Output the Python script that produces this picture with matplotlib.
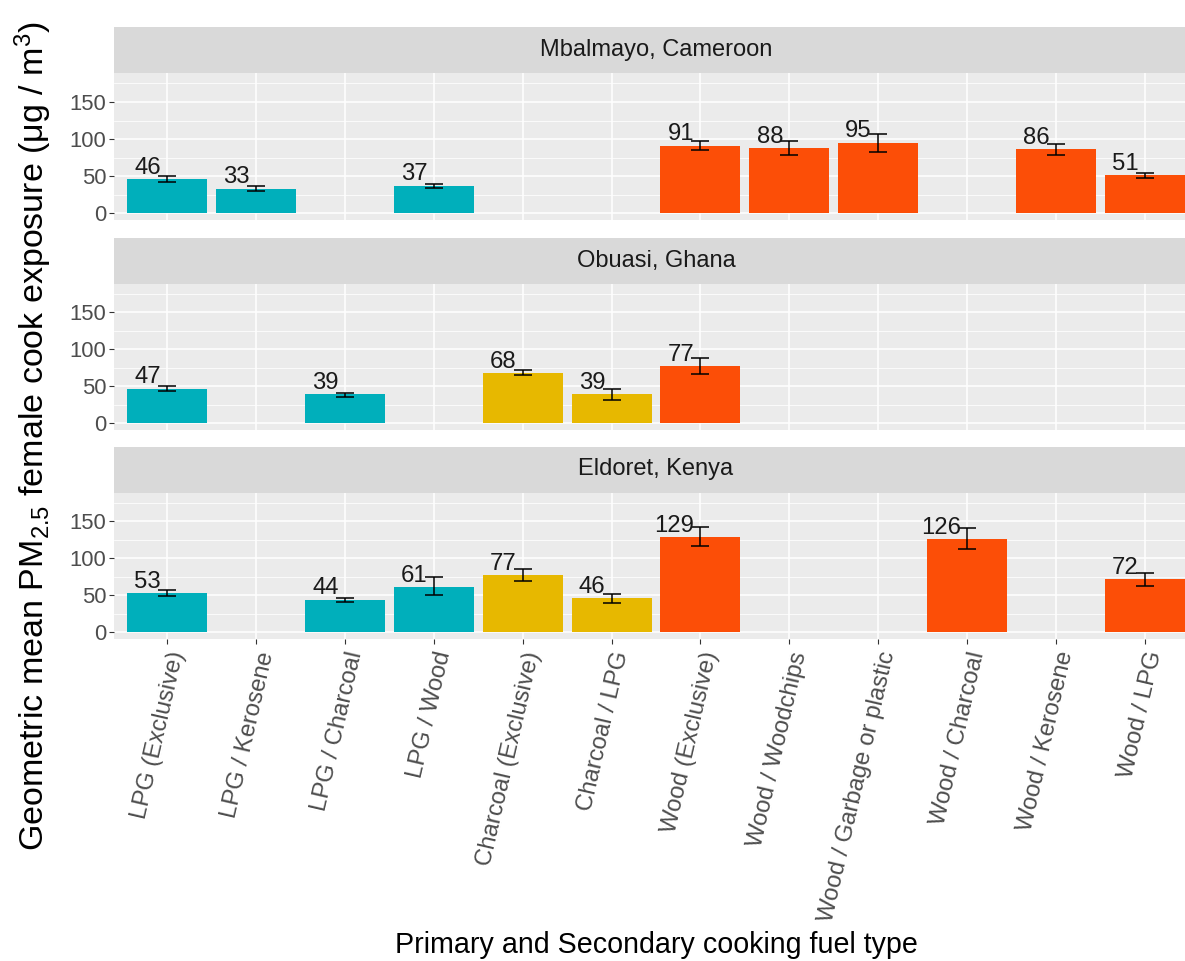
import numpy as np
import matplotlib
matplotlib.use("Agg")
import matplotlib.pyplot as plt

plt.rcParams['font.family'] = ['Liberation Sans', 'DejaVu Sans']
plt.rcParams['mathtext.fontset'] = 'custom'
plt.rcParams['mathtext.rm'] = 'Liberation Sans'
plt.rcParams['mathtext.it'] = 'Liberation Sans:italic'

nan = np.nan

# categories on the x axis and the primary fuel for each
categories = ["LPG (Exclusive)", "LPG / Kerosene", "LPG / Charcoal", "LPG / Wood",
              "Charcoal (Exclusive)", "Charcoal / LPG", "Wood (Exclusive)",
              "Wood / Woodchips", "Wood / Garbage or plastic", "Wood / Charcoal",
              "Wood / Kerosene", "Wood / LPG"]
primary_fuel = ["LPG"] * 4 + ["Charcoal"] * 2 + ["Wood"] * 6
fuel_colors = {"LPG": "#00AFBB", "Charcoal": "#E7B800", "Wood": "#FC4E07"}

sites = ["Mbalmayo, Cameroon", "Obuasi, Ghana", "Eldoret, Kenya"]

# geometric means and error bar limits
cameroon_gm = [46, 33, nan, 37, nan, nan, 91, 88, 95, nan, 86, 51]
cameroon_lo = [42, 30, nan, 34, nan, nan, 85, 79, 83, nan, 78, 47]
cameroon_hi = [50, 37, nan, 39, nan, nan, 97, 97, 107, nan, 94, 54]

ghana_gm = [47, nan, 39, nan, 68, 39, 77, nan, nan, nan, nan, nan]
ghana_lo = [44, nan, 36, nan, 65, 31, 67, nan, nan, nan, nan, nan]
ghana_hi = [50, nan, 41, nan, 72, 47, 88, nan, nan, nan, nan, nan]

kenya_gm = [53, nan, 44, 61, 77, 46, 129, nan, nan, 126, nan, 72]
kenya_lo = [49, nan, 41, 50, 69, 39, 117, nan, nan, 113, nan, 63]
kenya_hi = [57, nan, 46, 75, 85, 52, 143, nan, nan, 141, nan, 80]

site_data = [(cameroon_gm, cameroon_lo, cameroon_hi),
             (ghana_gm, ghana_lo, ghana_hi),
             (kenya_gm, kenya_lo, kenya_hi)]

W, H = 1185, 961
fig = plt.figure(figsize=(W / 100, H / 100), dpi=100)

# panel extents in pixels (top, bottom)
panels = [(73, 220), (283.5, 430), (492.5, 639)]
strip_h = 46
left_px, width_px = 114, 1084

x = np.arange(len(categories))
colors = [fuel_colors[f] for f in primary_fuel]

for i, (site, (gm, lo, hi)) in enumerate(zip(sites, site_data)):
    top, bottom = panels[i]
    ax = fig.add_axes([left_px / W, 1 - bottom / H, width_px / W, (bottom - top) / H])
    ax.set_facecolor('#EBEBEB')
    for s in ax.spines.values():
        s.set_visible(False)
    ax.set_xlim(-0.6, 11.6)
    ax.set_ylim(-9, 189)
    ax.set_yticks([0, 50, 100, 150])
    ax.set_yticks([25, 75, 125, 175], minor=True)
    ax.set_xticks(x)
    ax.grid(which='major', color='white', linewidth=1.1)
    ax.grid(which='minor', axis='y', color='white', linewidth=0.55)
    ax.set_axisbelow(True)
    ax.tick_params(axis='y', which='major', labelsize=15.8, labelcolor='#4D4D4D',
                   color='#333333', length=3.5, width=0.8, pad=2)
    ax.tick_params(axis='y', which='minor', length=0)

    gm = np.array(gm, dtype=float)
    lo = np.array(lo, dtype=float)
    hi = np.array(hi, dtype=float)
    ok = ~np.isnan(gm)
    ax.bar(x[ok], gm[ok], width=0.9, color=np.array(colors)[ok], zorder=2)
    ax.errorbar(x[ok], gm[ok], yerr=[gm[ok] - lo[ok], hi[ok] - gm[ok]], fmt='none',
                ecolor='black', elinewidth=1.1, capsize=6.2, capthick=1.1, zorder=3)
    for xi, v in zip(x[ok], gm[ok]):
        ax.text(xi - 0.07, v + 0.5, f"{v:.0f}", ha='right', va='bottom',
                fontsize=17.2, color='#1A1A1A', zorder=4)

    if i == len(sites) - 1:
        ax.tick_params(axis='x', labelsize=17.2, labelcolor='#4D4D4D', color='#333333',
                       length=3.5, width=0.8, pad=4)
        ax.set_xticklabels(categories, rotation=77, ha='right', va='top',
                           rotation_mode='anchor')
    else:
        ax.tick_params(axis='x', length=0, labelbottom=False)

    # facet strip
    sax = fig.add_axes([left_px / W, 1 - top / H, width_px / W, strip_h / H])
    sax.set_facecolor('#D9D9D9')
    sax.set_xticks([])
    sax.set_yticks([])
    for s in sax.spines.values():
        s.set_visible(False)
    sax.text(0.5, 0.5, site, transform=sax.transAxes, ha='center', va='center',
             fontsize=17, color='#1A1A1A')

fig.text(33 / W, 1 - 436 / H,
         r'Geometric mean PM$_{2.5}$ female cook exposure (μg / m$^{3}$)',
         rotation=90, ha='center', va='center', fontsize=24.5, color='black')
fig.text((left_px + width_px / 2) / W, 1 - 953 / H,
         'Primary and Secondary cooking fuel type',
         ha='center', va='baseline', fontsize=20.6, color='black')

fig.savefig('out.png', dpi=100)
